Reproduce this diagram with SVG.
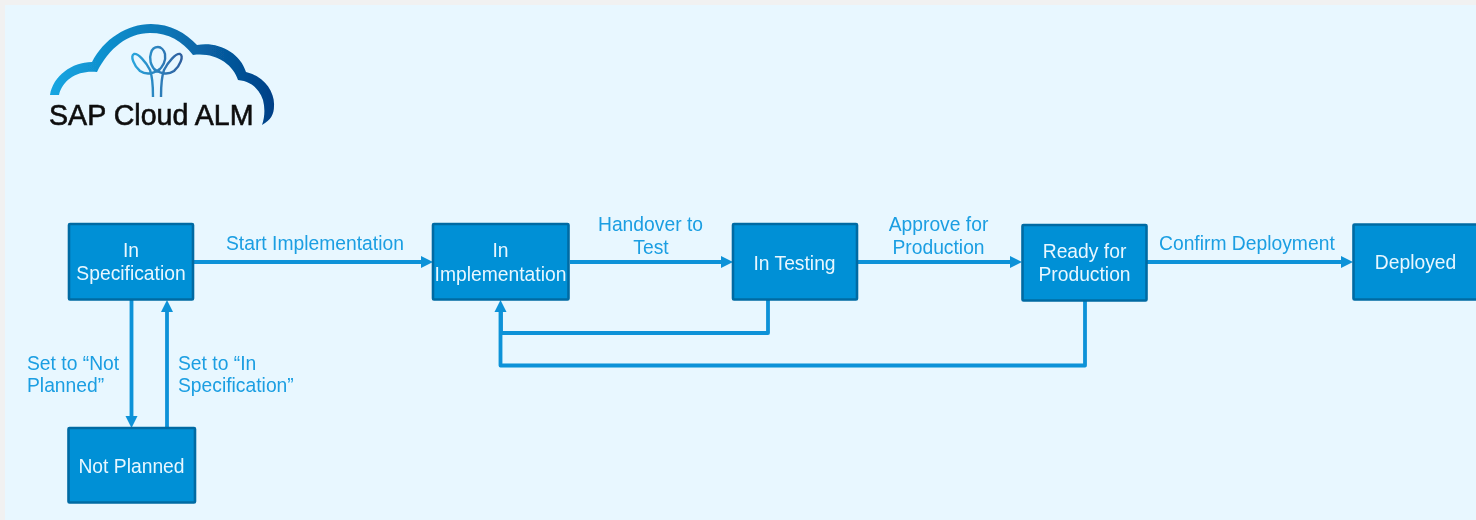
<svg xmlns="http://www.w3.org/2000/svg" width="1476" height="520" viewBox="0 0 1476 520">
<style>
.box{fill:#0090d6;stroke:#006ba3;stroke-width:2.6}
.nt{fill:#e8f7ff;font:19.3px "Liberation Sans",Arial,sans-serif;text-anchor:middle}
.lb{fill:#1a9ee2;font:19.3px "Liberation Sans",Arial,sans-serif}
.mid{text-anchor:middle}
.c{fill:none;stroke:#0a92d8;stroke-width:3.8;stroke-linejoin:round}
.h{fill:#0a92d8}
.lp{fill:none;stroke-width:2.4}
</style>
<defs>
<linearGradient id="cg" gradientUnits="userSpaceOnUse" x1="50" y1="0" x2="275" y2="0">
<stop offset="0" stop-color="#16a6e2"/><stop offset=".5" stop-color="#0a78b8"/><stop offset="1" stop-color="#033f86"/>
</linearGradient>
<linearGradient id="lg" gradientUnits="userSpaceOnUse" x1="133" y1="0" x2="182" y2="0">
<stop offset="0" stop-color="#2aa5dc"/><stop offset="1" stop-color="#2f5e9e"/>
</linearGradient>
<filter id="soft" x="-2%" y="-2%" width="104%" height="104%"><feGaussianBlur stdDeviation="0.45"/></filter>
</defs>
<rect width="1476" height="520" fill="#f1f1f1"/>
<rect x="5" y="5" width="1471" height="515" fill="#e8f7ff"/>
<g filter="url(#soft)">
<g id="logo">
<path d="M50,95 C53,76 72,62 92,62 C104,39 127,24 151,24 C170,24 186,33 197,45 C217,41 240,52 246,72 C264,76 275,92 274,106 C274,114 271,120 262,125 C265,116 265,108 263,100 C259,88 250,81 238,80 C233,64 215,52 193,55 C182,41 169,33 150,33 C128,33 109,48 97,72 C78,70 63,79 59,95 Z" fill="url(#cg)"/>
<g class="lp" stroke="url(#lg)">
<path d="M153,97 C153,86 153,78 150,70 C146,62 138,53 134,54 C130,56 134,66 140,71 C146,75 153,74 160,69"/>
<path d="M161,97 C161,86 161,78 164,70 C168,62 176,53 180,54 C184,56 180,66 174,71 C168,75 161,74 154,69"/>
<path d="M157,72 C150,66 149,58 151,53 C152,49 155,47 158,47 C161,47 164,50 165,54 C166,60 164,66 157,72"/>
</g>
<text x="49" y="125" font-family="'Liberation Sans',Arial,sans-serif" font-size="28.600" fill="#111" stroke="#111" stroke-width=".6">SAP Cloud ALM</text>
</g>
<g id="connectors">
<path class="c" d="M194,262H423"/><path class="h" d="M433,262L421,256V268Z"/>
<path class="c" d="M570,262H723"/><path class="h" d="M733,262L721,256V268Z"/>
<path class="c" d="M858,262H1012"/><path class="h" d="M1022,262L1010,256V268Z"/>
<path class="c" d="M1147,262H1343"/><path class="h" d="M1353,262L1341,256V268Z"/>
<path class="c" d="M131.500,300V418"/><path class="h" d="M131.500,428L125.500,416H137.500Z"/>
<path class="c" d="M167,428V310"/><path class="h" d="M167,300L161,312H173Z"/>
<path class="c" d="M768,300V333H501V310"/>
<path class="c" d="M1085,300V365.500H500.500V310"/><path class="h" d="M500.500,300L494.500,312H506.500Z"/>
</g>
<g id="n-spec"><rect class="box" x="69" y="224" width="124" height="75.500" rx="1"/><text class="nt" x="131" y="257">In</text><text class="nt" x="131" y="280">Specification</text></g>
<g id="n-notplanned"><rect class="box" x="68.500" y="428" width="126.500" height="74.500" rx="1"/><text class="nt" x="131.500" y="473">Not Planned</text></g>
<g id="n-impl"><rect class="box" x="433" y="224" width="135.500" height="75.500" rx="1"/><text class="nt" x="500.500" y="257">In</text><text class="nt" x="500.500" y="281">Implementation</text></g>
<g id="n-test"><rect class="box" x="733" y="224" width="124" height="75.500" rx="1"/><text class="nt" x="794.500" y="270">In Testing</text></g>
<g id="n-ready"><rect class="box" x="1022.500" y="225" width="124" height="75.500" rx="1"/><text class="nt" x="1084.500" y="258">Ready for</text><text class="nt" x="1084.500" y="281">Production</text></g>
<g id="n-deployed"><rect class="box" x="1353.500" y="224.500" width="130" height="75" rx="1"/><text class="nt" x="1415.500" y="269">Deployed</text></g>
<g id="labels">
<text class="lb" x="226" y="250">Start Implementation</text>
<text class="lb mid" x="650.500" y="231">Handover to</text><text class="lb mid" x="651" y="254">Test</text>
<text class="lb mid" x="938.500" y="231">Approve for</text><text class="lb mid" x="938.500" y="254">Production</text>
<text class="lb" x="1159" y="250">Confirm Deployment</text>
<text class="lb" x="27" y="370">Set to “Not</text><text class="lb" x="27" y="392">Planned”</text>
<text class="lb" x="178" y="370">Set to “In</text><text class="lb" x="178" y="392">Specification”</text>
</g>
</g>
</svg>
